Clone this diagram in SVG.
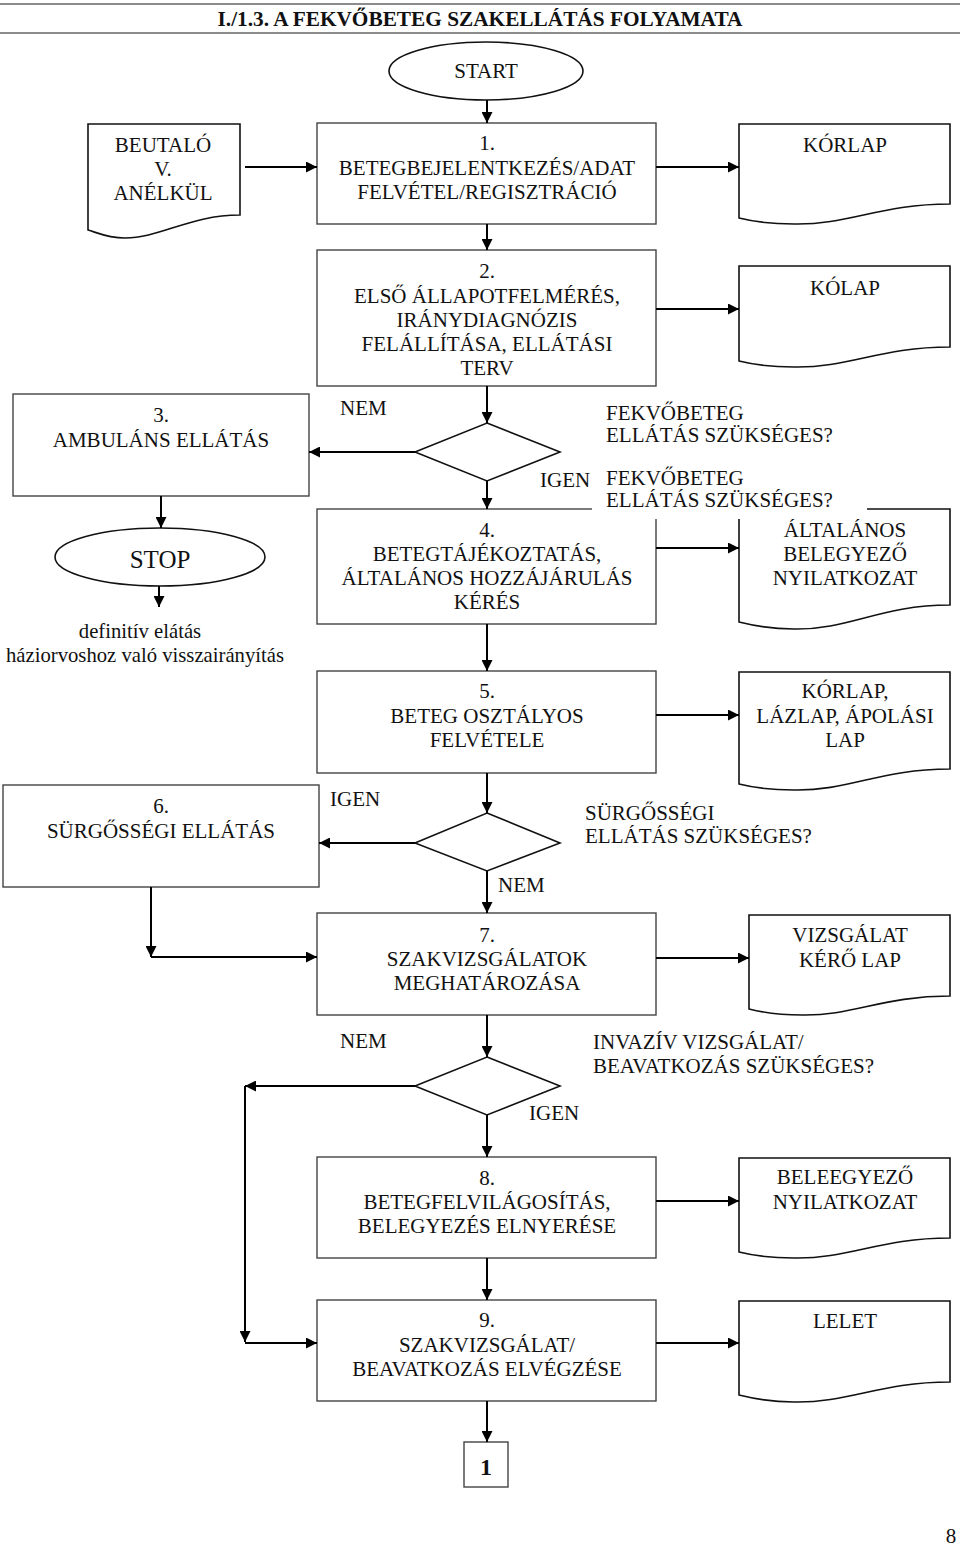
<svg xmlns="http://www.w3.org/2000/svg" width="960" height="1545" viewBox="0 0 960 1545">
<style>
text{font-family:"Liberation Serif","Times New Roman",serif;font-size:21px;fill:#111}
.c{text-anchor:middle}
.box{fill:#fff;stroke:#444;stroke-width:1.4}
.doc{fill:#fff;stroke:#111;stroke-width:1.6}
.term{fill:#fff;stroke:#111;stroke-width:1.6}
.dia{fill:#fff;stroke:#111;stroke-width:1.6}
.con{fill:none;stroke:#000;stroke-width:2}
.rule{stroke:#666;stroke-width:1.6}
</style>
<defs>
<marker id="ah" markerUnits="userSpaceOnUse" markerWidth="12" markerHeight="11" refX="11" refY="5.5" orient="auto">
<path d="M0,0 L11,5.5 L0,11 Z" fill="#000"/>
</marker>
</defs>
<rect width="960" height="1545" fill="#fff"/>
<g id="title">
<line class="rule" x1="0" y1="4" x2="960" y2="4"/>
<line class="rule" x1="0" y1="33" x2="960" y2="33"/>
<text x="480" y="26" class="c" style="font-weight:bold;font-size:21.3px">I./1.3. A FEKVŐBETEG SZAKELLÁTÁS FOLYAMATA</text>
</g>
<g id="start"><ellipse class="term" cx="486" cy="71" rx="97" ry="29"/><text x="486" y="78" class="c">START</text></g>
<g id="beutalo"><path class="doc" d="M88,124 H240 V215 C190,215 160,238 125,238 C108,238 98,233 88,230 Z"/>
<text x="163" y="152" class="c">BEUTALÓ</text><text x="163" y="176" class="c">V.</text><text x="163" y="200" class="c">ANÉLKÜL</text></g>
<g id="box1"><rect class="box" x="317" y="123" width="339" height="101"/>
<text x="487" y="150" class="c">1.</text><text x="487" y="175" class="c">BETEGBEJELENTKEZÉS/ADAT</text><text x="487" y="199" class="c">FELVÉTEL/REGISZTRÁCIÓ</text></g>
<g id="korlap1"><path class="doc" d="M739,124 H950 V204 C880,204 849,225 794,224 C769,224 751,221 739,218 Z"/><text x="845" y="152" class="c">KÓRLAP</text></g>
<g id="box2"><rect class="box" x="317" y="250" width="339" height="136"/>
<text x="487" y="278" class="c">2.</text><text x="487" y="303" class="c">ELSŐ ÁLLAPOTFELMÉRÉS,</text><text x="487" y="327" class="c">IRÁNYDIAGNÓZIS</text><text x="487" y="351" class="c">FELÁLLÍTÁSA, ELLÁTÁSI</text><text x="487" y="375" class="c">TERV</text></g>
<g id="kolap"><path class="doc" d="M739,266 H950 V347 C880,347 849,368 794,367 C769,367 751,364 739,361 Z"/><text x="845" y="295" class="c">KÓLAP</text></g>
<g id="d1"><polygon class="dia" points="487,423 560,452 487,481 415,452"/></g>
<g id="box3"><rect class="box" x="13" y="394" width="296" height="102"/>
<text x="161" y="422" class="c">3.</text><text x="161" y="447" class="c">AMBULÁNS ELLÁTÁS</text></g>
<g id="stop"><ellipse class="term" cx="160" cy="557" rx="105" ry="29"/><text x="160" y="568" class="c" style="font-size:25px">STOP</text></g>
<g id="stoptext"><text x="140" y="638" class="c" style="font-size:20.7px">definitív elátás</text><text x="145" y="662" class="c" style="font-size:20.7px">háziorvoshoz való visszairányítás</text></g>
<g id="box4"><rect class="box" x="317" y="509" width="339" height="115"/>
<text x="487" y="537" class="c">4.</text><text x="487" y="561" class="c">BETEGTÁJÉKOZTATÁS,</text><text x="487" y="585" class="c">ÁLTALÁNOS HOZZÁJÁRULÁS</text><text x="487" y="609" class="c">KÉRÉS</text></g>
<g id="altalanos"><path class="doc" d="M739,509 H950 V605 C880,605 849,630 794,629 C769,629 751,625 739,622 Z"/></g>
<g id="labels1">
<text x="340" y="415">NEM</text>
<text x="606" y="420">FEKVŐBETEG</text><text x="606" y="442">ELLÁTÁS SZÜKSÉGES?</text>
<text x="540" y="487">IGEN</text>
<rect x="592" y="463" width="275" height="56" fill="#fff"/>
<text x="606" y="485">FEKVŐBETEG</text><text x="606" y="507">ELLÁTÁS SZÜKSÉGES?</text>
</g>
<g id="altalanos-text"><text x="845" y="537" class="c">ÁLTALÁNOS</text><text x="845" y="561" class="c">BELEGYEZŐ</text><text x="845" y="585" class="c">NYILATKOZAT</text></g>
<g id="box5"><rect class="box" x="317" y="671" width="339" height="102"/>
<text x="487" y="698" class="c">5.</text><text x="487" y="723" class="c">BETEG OSZTÁLYOS</text><text x="487" y="747" class="c">FELVÉTELE</text></g>
<g id="korlap2"><path class="doc" d="M739,672 H950 V769 C880,769 849,791 794,790 C769,790 751,787 739,784 Z"/>
<text x="845" y="698" class="c">KÓRLAP,</text><text x="845" y="723" class="c">LÁZLAP, ÁPOLÁSI</text><text x="845" y="747" class="c">LAP</text></g>
<g id="d2"><polygon class="dia" points="487,813 560,843 487,871 415,843"/></g>
<g id="box6"><rect class="box" x="3" y="785" width="316" height="102"/>
<text x="161" y="813" class="c">6.</text><text x="161" y="838" class="c">SÜRGŐSSÉGI ELLÁTÁS</text></g>
<g id="labels2">
<text x="330" y="806">IGEN</text>
<text x="585" y="820">SÜRGŐSSÉGI</text><text x="585" y="843">ELLÁTÁS SZÜKSÉGES?</text>
<text x="498" y="892">NEM</text>
</g>
<g id="box7"><rect class="box" x="317" y="913" width="339" height="102"/>
<text x="487" y="942" class="c">7.</text><text x="487" y="966" class="c">SZAKVIZSGÁLATOK</text><text x="487" y="990" class="c">MEGHATÁROZÁSA</text></g>
<g id="vizsgalat"><path class="doc" d="M749,915 H950 V996 C883,996 853,1016 802,1015 C778,1015 761,1012 749,1009 Z"/>
<text x="850" y="942" class="c">VIZSGÁLAT</text><text x="850" y="967" class="c">KÉRŐ LAP</text></g>
<g id="d3"><polygon class="dia" points="487,1057 560,1086 487,1115 415,1086"/></g>
<g id="labels3">
<text x="340" y="1048">NEM</text>
<text x="593" y="1049">INVAZÍV VIZSGÁLAT/</text><text x="593" y="1073">BEAVATKOZÁS SZÜKSÉGES?</text>
<text x="529" y="1120">IGEN</text>
</g>
<g id="box8"><rect class="box" x="317" y="1157" width="339" height="101"/>
<text x="487" y="1185" class="c">8.</text><text x="487" y="1209" class="c">BETEGFELVILÁGOSÍTÁS,</text><text x="487" y="1233" class="c">BELEGYEZÉS ELNYERÉSE</text></g>
<g id="beleegyezo"><path class="doc" d="M739,1158 H950 V1238 C880,1238 849,1259 794,1258 C769,1258 751,1255 739,1252 Z"/>
<text x="845" y="1184" class="c">BELEEGYEZŐ</text><text x="845" y="1209" class="c">NYILATKOZAT</text></g>
<g id="box9"><rect class="box" x="317" y="1300" width="339" height="101"/>
<text x="487" y="1327" class="c">9.</text><text x="487" y="1352" class="c">SZAKVIZSGÁLAT/</text><text x="487" y="1376" class="c">BEAVATKOZÁS ELVÉGZÉSE</text></g>
<g id="lelet"><path class="doc" d="M739,1301 H950 V1382 C880,1382 849,1403 794,1402 C769,1402 751,1398 739,1395 Z"/>
<text x="845" y="1328" class="c">LELET</text></g>
<g id="conn1"><rect class="box" x="464" y="1442" width="44" height="45"/><text x="486" y="1475" class="c" style="font-weight:bold;font-size:24px">1</text></g>
<g id="pagenum"><text x="951" y="1543" class="c">8</text></g>
<g id="connectors" class="con">
<path class="con" marker-end="url(#ah)" d="M487,100 V123"/>
<path class="con" marker-end="url(#ah)" d="M245,167 H317"/>
<path class="con" marker-end="url(#ah)" d="M656,167 H739"/>
<path class="con" marker-end="url(#ah)" d="M487,224 V250"/>
<path class="con" marker-end="url(#ah)" d="M656,309 H739"/>
<path class="con" marker-end="url(#ah)" d="M487,386 V423"/>
<path class="con" marker-end="url(#ah)" d="M415,452 H309"/>
<path class="con" marker-end="url(#ah)" d="M487,481 V509"/>
<path class="con" marker-end="url(#ah)" d="M161,496 V528"/>
<path class="con" marker-end="url(#ah)" d="M159,586 V607"/>
<path class="con" marker-end="url(#ah)" d="M656,548 H739"/>
<path class="con" marker-end="url(#ah)" d="M487,624 V671"/>
<path class="con" marker-end="url(#ah)" d="M656,715 H739"/>
<path class="con" marker-end="url(#ah)" d="M487,773 V813"/>
<path class="con" marker-end="url(#ah)" d="M415,843 H319"/>
<path class="con" marker-end="url(#ah)" d="M487,871 V913"/>
<path class="con" marker-end="url(#ah)" d="M151,887 V957"/>
<path class="con" marker-end="url(#ah)" d="M151,957 H317"/>
<path class="con" marker-end="url(#ah)" d="M656,958 H749"/>
<path class="con" marker-end="url(#ah)" d="M487,1015 V1057"/>
<path class="con" marker-end="url(#ah)" d="M415,1086 H245"/>
<path class="con" marker-end="url(#ah)" d="M245,1086 V1342"/>
<path class="con" marker-end="url(#ah)" d="M245,1343 H317"/>
<path class="con" marker-end="url(#ah)" d="M487,1115 V1157"/>
<path class="con" marker-end="url(#ah)" d="M656,1201 H739"/>
<path class="con" marker-end="url(#ah)" d="M487,1258 V1300"/>
<path class="con" marker-end="url(#ah)" d="M656,1343 H739"/>
<path class="con" marker-end="url(#ah)" d="M487,1401 V1442"/>
</g>
</svg>
